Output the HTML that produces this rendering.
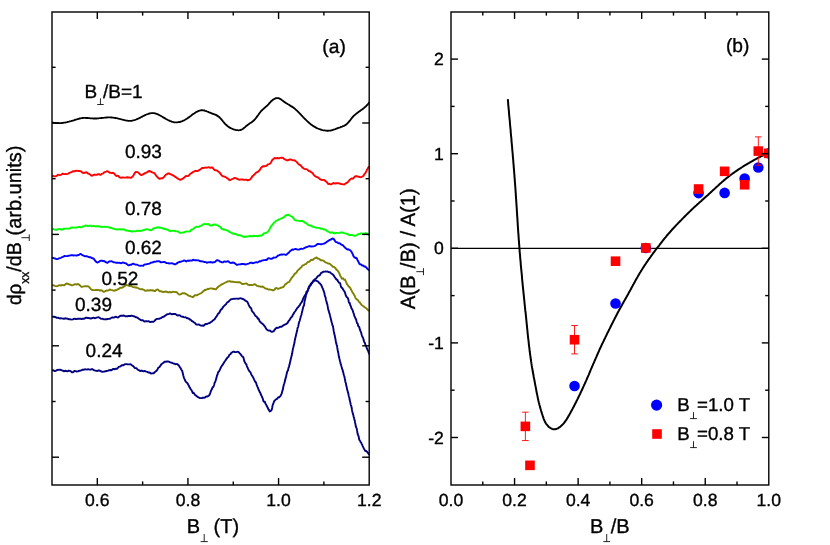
<!DOCTYPE html>
<html><head><meta charset="utf-8"><title>figure</title>
<style>
html,body{margin:0;padding:0;background:#fff;}
body{width:830px;height:545px;overflow:hidden;font-family:"Liberation Sans", sans-serif;}
svg{display:block;will-change:transform;}
</style></head><body>
<svg width="830" height="545" viewBox="0 0 830 545" font-family='"Liberation Sans", sans-serif' fill="#000" text-rendering="geometricPrecision">
<style>text{stroke:#000;stroke-width:0.35px;stroke-linejoin:round;}</style>
<rect x="0" y="0" width="830" height="545" fill="#fff"/>
<defs>
<clipPath id="cl"><rect x="52.0" y="12.0" width="317.2" height="473.0"/></clipPath>
<clipPath id="cr"><rect x="451.0" y="12.0" width="317.79999999999995" height="473.0"/></clipPath>
</defs>
<path d="M52.0 122.4L53.0 122.6L54.0 122.8L55.1 122.9L56.1 123.0L57.1 123.1L58.1 123.1L59.1 123.2L60.1 123.1L61.1 123.1L62.0 123.0L63.0 122.9L64.0 122.7L65.0 122.6L66.0 122.4L67.0 122.2L67.9 121.9L68.9 121.7L69.9 121.4L70.9 121.2L71.8 120.9L72.8 120.6L73.8 120.3L74.7 120.0L75.7 119.7L76.7 119.4L77.6 119.1L78.6 118.8L79.6 118.5L80.6 118.3L81.5 118.2L82.5 118.0L83.5 117.9L84.5 117.9L85.5 117.9L86.5 118.0L87.5 118.0L88.5 118.1L89.5 118.2L90.5 118.3L91.5 118.4L92.5 118.4L93.5 118.5L94.5 118.5L95.5 118.5L96.6 118.5L97.6 118.4L98.6 118.3L99.6 118.2L100.6 118.1L101.6 118.0L102.6 117.9L103.6 117.8L104.6 117.7L105.6 117.6L106.6 117.5L107.6 117.4L108.6 117.4L109.6 117.4L110.5 117.4L111.5 117.5L112.5 117.6L113.5 117.7L114.5 117.9L115.5 118.0L116.5 118.2L117.5 118.4L118.5 118.7L119.5 118.9L120.5 119.2L121.5 119.4L122.5 119.7L123.5 119.9L124.5 120.2L125.5 120.4L126.4 120.6L127.4 120.7L128.4 120.8L129.4 120.9L130.4 120.8L131.3 120.8L132.3 120.6L133.3 120.4L134.2 120.2L135.1 119.9L136.1 119.5L137.0 119.1L138.0 118.7L138.9 118.3L139.8 117.8L140.8 117.3L141.7 116.8L142.7 116.3L143.6 115.8L144.6 115.4L145.5 114.9L146.5 114.5L147.4 114.1L148.4 113.8L149.3 113.5L150.3 113.3L151.2 113.2L152.2 113.1L153.1 113.1L154.1 113.2L155.0 113.4L155.9 113.6L156.9 114.0L157.8 114.3L158.7 114.8L159.6 115.2L160.5 115.7L161.5 116.3L162.4 116.8L163.3 117.4L164.2 117.9L165.1 118.4L166.0 119.0L167.0 119.5L167.9 120.0L168.8 120.4L169.7 120.9L170.7 121.2L171.6 121.6L172.6 121.9L173.5 122.1L174.5 122.3L175.4 122.4L176.4 122.4L177.4 122.4L178.4 122.2L179.4 122.0L180.4 121.8L181.3 121.5L182.3 121.1L183.2 120.7L184.2 120.3L185.1 119.8L185.9 119.3L186.8 118.8L187.6 118.2L188.4 117.6L189.2 117.1L190.0 116.5L190.8 115.9L191.6 115.2L192.4 114.6L193.2 114.0L194.1 113.5L194.9 112.9L195.8 112.3L196.7 111.8L197.7 111.4L198.6 110.9L199.6 110.6L200.5 110.4L201.5 110.2L202.5 110.2L203.4 110.3L204.4 110.5L205.3 110.8L206.3 111.1L207.2 111.5L208.2 111.9L209.1 112.3L210.1 112.7L211.1 113.1L212.0 113.5L213.0 113.8L214.0 114.2L214.9 114.5L215.8 114.9L216.7 115.4L217.5 115.9L218.3 116.4L219.1 117.0L219.8 117.7L220.5 118.4L221.2 119.1L221.8 119.9L222.5 120.7L223.1 121.5L223.8 122.3L224.5 123.1L225.1 123.8L225.8 124.5L226.6 125.2L227.3 125.9L228.1 126.5L228.9 127.1L229.8 127.6L230.7 128.1L231.6 128.5L232.5 128.9L233.5 129.3L234.5 129.6L235.5 129.9L236.5 130.1L237.6 130.2L238.6 130.3L239.6 130.2L240.5 130.0L241.4 129.7L242.3 129.2L243.1 128.7L243.9 128.0L244.7 127.4L245.5 126.7L246.2 126.0L247.0 125.4L247.9 124.7L248.7 124.2L249.5 123.6L250.4 123.0L251.2 122.5L252.0 121.9L252.8 121.3L253.5 120.7L254.3 120.0L254.9 119.3L255.6 118.5L256.2 117.7L256.8 116.9L257.4 116.1L258.0 115.3L258.6 114.5L259.2 113.6L259.8 112.8L260.4 112.0L261.0 111.2L261.7 110.5L262.4 109.8L263.2 109.1L263.9 108.4L264.7 107.8L265.4 107.1L266.2 106.5L267.0 105.8L267.7 105.1L268.4 104.4L269.0 103.7L269.7 102.9L270.4 102.1L271.0 101.4L271.8 100.7L272.5 100.1L273.4 99.5L274.3 98.9L275.2 98.5L276.2 98.2L277.2 98.1L278.2 98.1L279.1 98.4L280.0 98.8L280.8 99.3L281.7 99.9L282.5 100.6L283.4 101.2L284.2 101.9L285.1 102.4L285.9 103.0L286.8 103.5L287.6 104.0L288.5 104.5L289.4 105.1L290.2 105.6L291.0 106.1L291.9 106.6L292.7 107.1L293.5 107.7L294.3 108.3L295.0 108.9L295.8 109.6L296.5 110.3L297.2 110.9L297.9 111.6L298.7 112.4L299.4 113.1L300.1 113.8L300.8 114.5L301.5 115.3L302.2 116.0L302.9 116.8L303.6 117.5L304.3 118.3L305.0 119.0L305.7 119.7L306.4 120.4L307.2 121.1L307.9 121.8L308.7 122.5L309.4 123.1L310.2 123.8L311.0 124.4L311.8 125.0L312.6 125.6L313.5 126.1L314.3 126.6L315.2 127.1L316.0 127.6L316.9 128.1L317.8 128.5L318.8 128.9L319.7 129.2L320.7 129.5L321.6 129.8L322.6 130.1L323.6 130.3L324.6 130.4L325.6 130.6L326.6 130.7L327.7 130.7L328.7 130.7L329.7 130.6L330.6 130.5L331.6 130.3L332.6 130.0L333.5 129.7L334.5 129.4L335.4 129.1L336.3 128.7L337.3 128.3L338.2 128.0L339.2 127.6L340.2 127.3L341.1 126.9L342.1 126.6L343.0 126.2L344.0 125.8L344.8 125.4L345.7 124.9L346.5 124.3L347.2 123.6L347.9 122.9L348.6 122.2L349.2 121.4L349.8 120.6L350.5 119.8L351.1 119.0L351.7 118.2L352.4 117.4L353.0 116.6L353.7 115.9L354.5 115.2L355.2 114.6L356.0 113.9L356.8 113.3L357.6 112.7L358.4 112.1L359.2 111.5L360.0 110.9L360.8 110.3L361.7 109.8L362.5 109.2L363.3 108.6L364.1 107.9L364.8 107.3L365.6 106.6L366.3 106.0L367.0 105.2L367.7 104.5L368.3 103.7L368.9 102.9L369.5 102.0" fill="none" stroke="#000000" stroke-width="1.85" stroke-linejoin="round" stroke-linecap="butt" clip-path="url(#cl)"/>
<path d="M52.0 175.8L53.0 176.0L54.0 176.3L55.0 176.4L56.0 176.2L57.0 175.6L58.0 174.8L59.0 174.9L59.9 175.2L60.9 174.8L61.9 174.2L62.8 173.7L63.8 174.0L64.8 174.1L65.7 173.9L66.7 174.1L67.6 173.8L68.6 173.4L69.5 172.8L70.5 172.4L71.5 172.1L72.5 171.5L73.5 171.2L74.5 171.3L75.5 170.9L76.5 170.7L77.5 170.9L78.5 171.0L79.5 171.0L80.5 171.1L81.5 171.8L82.5 172.7L83.4 173.0L84.4 172.8L85.4 172.5L86.4 172.3L87.4 172.9L88.3 173.7L89.3 174.0L90.3 174.7L91.2 175.6L92.2 175.7L93.1 175.1L94.1 174.7L95.1 174.7L96.1 174.7L97.1 174.7L98.1 174.1L99.0 174.1L100.0 174.8L100.8 174.7L101.7 173.9L102.5 173.7L103.4 173.3L104.3 172.1L105.2 171.9L106.2 171.6L107.2 171.2L108.2 171.6L109.1 172.3L110.1 172.8L111.0 172.9L111.9 173.1L112.7 172.8L113.4 172.9L114.2 173.7L115.0 174.5L115.7 175.5L116.5 176.0L117.4 175.7L118.3 176.0L119.3 177.1L120.2 177.6L121.2 177.7L122.2 177.5L123.2 177.5L124.2 177.6L125.2 177.6L126.2 177.5L127.2 177.3L128.2 177.5L129.2 177.4L130.2 177.7L131.2 177.7L132.1 176.9L132.9 176.2L133.6 175.2L134.2 173.9L134.8 173.1L135.5 172.2L136.2 171.9L137.2 172.1L138.1 172.4L138.9 173.2L139.8 174.0L140.7 174.9L141.7 175.1L142.7 174.5L143.6 173.9L144.6 173.5L145.5 172.9L146.4 172.6L147.3 172.1L148.3 171.4L149.3 171.0L150.3 171.2L151.2 171.9L152.1 172.3L153.0 172.7L153.8 172.9L154.6 173.4L155.4 174.5L156.2 175.9L157.0 176.7L157.8 177.5L158.7 178.3L159.6 178.8L160.6 178.6L161.6 178.1L162.5 178.2L163.4 177.5L164.3 176.6L165.1 175.6L166.0 174.6L166.9 174.2L167.8 173.6L168.8 173.3L169.8 174.1L170.8 174.3L171.7 174.7L172.6 175.3L173.5 175.5L174.4 176.2L175.3 176.9L176.2 177.4L177.1 178.1L178.0 178.7L178.9 179.2L179.9 179.8L180.9 179.7L181.9 179.2L182.8 178.6L183.7 177.9L184.6 177.3L185.4 176.3L186.2 176.0L187.0 176.1L187.9 176.0L188.7 175.7L189.6 174.7L190.5 173.5L191.4 173.1L192.3 172.6L193.3 171.8L194.2 171.5L195.1 171.0L196.0 170.8L196.9 171.1L197.8 171.1L198.6 170.5L199.5 169.8L200.3 169.4L201.2 168.8L202.1 168.0L203.0 167.9L204.0 168.0L205.0 167.5L206.0 167.6L207.0 167.7L208.0 167.4L209.0 167.3L209.9 167.7L210.9 167.7L211.8 167.3L212.8 167.9L213.7 169.1L214.6 170.0L215.5 170.3L216.4 170.4L217.2 170.7L218.1 171.4L218.9 172.1L219.7 172.6L220.5 173.9L221.3 174.9L222.1 175.8L222.9 176.3L223.7 176.4L224.6 176.8L225.4 176.9L226.2 177.6L227.1 178.3L228.0 178.5L228.9 179.6L229.9 180.2L230.8 179.8L231.8 179.2L232.8 178.9L233.8 178.4L234.8 177.9L235.8 178.1L236.8 178.6L237.8 179.1L238.8 179.6L239.8 179.7L240.8 179.4L241.8 179.5L242.8 179.5L243.8 179.8L244.8 179.9L245.7 179.6L246.7 179.8L247.7 180.3L248.6 180.0L249.5 179.9L250.3 179.1L251.2 178.1L252.0 176.9L252.7 175.8L253.5 175.5L254.2 174.6L254.9 174.1L255.7 173.2L256.4 172.4L257.1 172.3L257.8 171.9L258.6 171.2L259.4 170.5L260.2 169.2L261.1 167.8L262.0 167.0L262.9 166.3L263.9 166.1L264.8 166.2L265.7 166.1L266.6 165.7L267.4 164.8L268.1 164.3L268.9 164.1L269.5 163.9L270.2 163.5L270.9 162.5L271.6 161.3L272.3 159.8L273.0 159.4L273.8 158.7L274.6 157.9L275.5 158.4L276.4 158.2L277.4 158.0L278.3 158.3L279.3 158.3L280.3 157.9L281.3 157.8L282.3 157.7L283.1 158.0L284.0 158.8L284.9 159.3L285.8 159.7L286.8 160.4L287.8 160.3L288.7 159.8L289.7 159.5L290.7 159.4L291.7 159.8L292.6 160.2L293.5 160.4L294.3 160.3L295.1 160.7L295.8 161.2L296.6 161.7L297.3 162.7L298.0 163.6L298.8 164.4L299.5 164.8L300.3 165.0L301.1 166.0L301.9 166.9L302.7 167.8L303.6 168.4L304.4 168.8L305.3 169.1L306.1 169.1L307.0 169.4L307.9 170.2L308.7 170.9L309.5 171.3L310.4 171.5L311.2 172.2L312.0 172.6L312.8 173.3L313.5 174.6L314.3 175.4L315.0 176.2L315.8 176.5L316.5 176.8L317.3 177.2L318.1 177.6L319.0 178.2L319.9 179.1L320.9 179.7L321.9 180.0L322.9 179.9L323.9 179.9L324.9 180.6L325.8 181.2L326.7 182.0L327.4 182.9L328.1 183.9L328.8 184.0L329.6 183.8L330.4 184.3L331.4 184.4L332.4 183.5L333.4 183.0L334.3 183.3L335.3 183.5L336.3 183.3L337.3 183.2L338.3 183.3L339.3 183.4L340.3 183.8L341.3 184.0L342.2 184.1L343.2 184.4L344.2 184.5L345.2 183.8L346.2 183.1L347.2 182.6L348.2 181.7L349.1 180.6L350.0 179.6L350.8 178.8L351.5 178.5L352.2 178.5L352.7 178.8L353.3 178.5L354.0 177.5L354.8 176.7L355.7 176.2L356.7 176.1L357.7 176.5L358.7 176.7L359.7 177.0L360.7 177.2L361.7 176.9L362.6 176.5L363.5 175.7L364.3 174.3L364.9 173.5L365.5 173.0L366.0 171.8L366.5 170.8L366.9 169.8L367.4 169.2L367.8 168.3L368.3 167.4L368.8 167.1L369.5 166.4" fill="none" stroke="#ff0000" stroke-width="1.9" stroke-linejoin="round" stroke-linecap="butt" clip-path="url(#cl)"/>
<path d="M52.0 229.7L53.0 228.7L54.0 229.3L55.0 229.6L56.0 229.8L57.0 229.8L58.0 229.1L59.0 229.1L60.0 229.0L61.0 229.3L62.0 229.8L63.0 229.1L64.0 228.6L65.0 228.7L66.0 228.6L67.0 228.6L68.0 228.6L69.0 228.7L70.0 228.4L71.0 227.6L71.9 227.5L72.9 227.5L73.9 227.6L74.9 227.6L75.9 227.5L76.9 227.6L77.8 227.1L78.8 227.0L79.8 227.0L80.8 227.4L81.7 227.3L82.7 226.4L83.7 226.2L84.7 225.9L85.7 225.5L86.7 225.6L87.7 226.0L88.7 226.1L89.7 225.7L90.7 225.7L91.7 226.2L92.7 226.1L93.7 225.9L94.7 226.2L95.7 226.5L96.7 226.3L97.6 226.2L98.6 226.2L99.6 226.5L100.6 226.9L101.6 226.8L102.6 226.9L103.6 227.0L104.5 226.6L105.5 227.0L106.5 226.9L107.5 226.8L108.5 227.2L109.4 227.5L110.4 227.7L111.4 228.0L112.4 228.3L113.4 228.7L114.4 228.9L115.4 229.2L116.4 229.5L117.3 229.4L118.3 229.4L119.3 229.1L120.3 229.3L121.3 229.5L122.3 229.5L123.3 229.2L124.3 229.4L125.3 230.3L126.3 230.5L127.3 230.5L128.3 230.9L129.3 231.0L130.3 231.0L131.3 231.5L132.3 231.5L133.3 231.3L134.3 231.4L135.3 231.4L136.3 231.0L137.3 230.8L138.3 230.7L139.2 230.9L140.2 231.1L141.2 230.6L142.2 230.6L143.2 230.2L144.2 229.8L145.2 229.8L146.2 229.2L147.2 229.2L148.2 229.6L149.1 229.7L150.1 230.1L151.1 230.3L152.1 229.6L153.1 228.6L154.1 228.2L155.1 228.0L156.1 227.7L157.1 227.5L158.1 227.3L159.1 227.5L160.1 227.7L161.1 227.9L162.1 228.1L163.1 228.7L164.0 228.7L165.0 229.0L166.0 229.5L167.0 229.3L168.0 229.8L168.9 230.5L169.9 231.2L170.9 230.9L171.8 230.7L172.8 230.9L173.8 230.6L174.8 230.9L175.7 231.4L176.7 231.4L177.7 231.3L178.6 232.0L179.6 232.7L180.6 232.9L181.6 232.7L182.6 232.4L183.6 232.6L184.6 232.1L185.6 231.6L186.5 231.4L187.4 231.4L188.3 231.6L189.2 231.6L190.1 231.2L190.9 230.1L191.8 229.5L192.6 229.3L193.5 228.7L194.4 228.0L195.3 227.3L196.3 226.7L197.2 226.7L198.1 226.9L199.1 226.7L200.0 225.9L201.0 225.7L201.9 225.4L202.9 224.4L203.9 224.1L204.8 223.8L205.8 224.1L206.8 224.3L207.8 223.9L208.8 224.4L209.8 225.1L210.8 225.6L211.8 225.6L212.8 224.9L213.7 224.5L214.7 224.5L215.6 224.8L216.6 225.1L217.5 225.2L218.4 225.8L219.3 226.5L220.2 227.0L221.1 228.0L222.0 229.0L222.9 229.2L223.8 229.6L224.7 229.7L225.6 229.8L226.5 230.4L227.4 230.6L228.2 231.0L229.1 231.6L230.1 232.2L231.0 232.7L231.9 233.0L232.8 233.6L233.7 233.7L234.7 233.7L235.6 234.2L236.6 234.3L237.5 235.1L238.5 235.4L239.5 234.9L240.4 235.3L241.4 235.9L242.4 236.3L243.4 236.9L244.4 237.1L245.4 236.4L246.4 236.5L247.4 236.6L248.4 236.3L249.4 236.2L250.4 236.0L251.4 236.4L252.3 236.4L253.3 235.7L254.3 236.0L255.3 236.0L256.3 235.9L257.3 236.3L258.3 236.0L259.3 235.6L260.2 235.5L261.2 235.7L262.1 235.3L263.0 234.2L263.9 233.4L264.7 233.1L265.6 233.1L266.4 232.6L267.1 232.2L267.8 231.7L268.5 230.9L269.1 230.0L269.8 228.7L270.4 227.4L271.0 226.3L271.6 225.4L272.3 224.9L272.9 224.1L273.6 223.1L274.3 222.3L275.0 222.0L275.7 221.2L276.5 220.6L277.3 220.3L278.2 219.8L279.0 219.4L279.9 219.0L280.7 218.6L281.6 218.3L282.5 217.8L283.4 217.5L284.3 216.7L285.2 215.9L286.1 215.4L287.1 214.9L288.1 214.6L289.1 215.1L290.0 215.7L291.0 216.3L291.7 216.7L292.4 217.0L292.9 217.5L293.5 218.1L294.1 219.2L294.8 220.0L295.6 220.4L296.5 220.5L297.5 220.6L298.5 220.9L299.5 220.9L300.5 221.0L301.5 221.0L302.5 221.0L303.5 221.6L304.4 222.3L305.4 222.8L306.3 223.2L307.1 223.9L308.0 224.9L308.8 225.2L309.6 225.5L310.4 225.5L311.3 225.7L312.2 226.5L313.2 226.9L314.2 227.1L315.1 227.3L316.1 227.6L317.1 227.9L318.1 227.9L319.1 228.0L320.1 228.4L321.0 228.8L322.0 228.5L322.9 229.0L323.8 229.5L324.7 229.5L325.6 229.9L326.5 230.4L327.4 231.3L328.3 231.7L329.3 232.1L330.2 232.8L331.2 232.6L332.2 232.2L333.2 232.9L334.2 233.3L335.2 233.2L336.2 232.9L337.2 232.9L338.2 233.1L339.2 232.9L340.2 232.6L341.2 232.4L342.2 232.5L343.2 232.7L344.2 233.1L345.1 233.4L346.1 233.6L347.1 233.9L348.1 234.4L349.0 235.1L350.0 235.2L351.0 234.9L352.0 235.1L353.0 235.3L354.0 235.7L355.0 235.8L356.0 235.5L356.9 235.1L357.9 234.3L358.9 234.0L359.8 233.9L360.8 233.5L361.8 233.5L362.8 233.7L363.8 233.7L364.8 233.5L365.8 233.0L366.7 233.5L367.7 233.9L368.6 234.6L369.4 235.3" fill="none" stroke="#00ff00" stroke-width="1.9" stroke-linejoin="round" stroke-linecap="butt" clip-path="url(#cl)"/>
<path d="M52.0 258.2L53.0 257.8L54.0 258.2L55.0 258.5L56.0 258.8L57.0 259.1L58.0 258.8L58.9 258.4L59.9 258.1L60.9 257.8L61.9 257.2L62.8 256.9L63.8 256.5L64.7 255.9L65.7 256.1L66.7 256.1L67.6 256.0L68.6 255.7L69.6 255.6L70.6 255.3L71.6 255.1L72.6 255.2L73.6 255.5L74.6 255.4L75.6 255.4L76.5 255.7L77.5 255.2L78.5 255.1L79.5 254.5L80.5 253.9L81.5 254.5L82.5 255.2L83.5 255.7L84.4 256.0L85.4 256.2L86.4 256.2L87.3 256.4L88.3 256.8L89.2 257.2L90.2 257.2L91.1 257.7L92.0 258.2L93.0 258.1L93.9 258.9L94.9 260.4L95.9 261.5L96.8 262.4L97.8 262.5L98.8 261.9L99.8 261.1L100.8 260.7L101.8 260.7L102.8 261.0L103.8 261.0L104.8 261.4L105.8 262.2L106.8 262.7L107.8 262.7L108.8 261.7L109.8 261.3L110.8 261.4L111.8 261.3L112.8 261.8L113.8 262.4L114.8 262.4L115.8 262.7L116.8 262.6L117.8 262.7L118.7 262.9L119.7 262.8L120.7 263.2L121.7 263.1L122.6 262.4L123.6 262.7L124.5 263.1L125.5 263.2L126.4 263.7L127.4 264.5L128.4 265.4L129.3 265.1L130.3 264.6L131.3 264.7L132.3 263.9L133.3 263.7L134.3 264.2L135.3 264.6L136.3 264.6L137.3 264.7L138.3 265.3L139.3 265.6L140.3 265.9L141.3 265.6L142.3 265.6L143.2 265.8L144.2 264.7L145.2 264.4L146.2 264.4L147.1 264.1L148.1 263.9L149.0 263.7L150.0 263.3L151.0 262.6L151.9 262.5L152.9 262.3L153.9 261.8L154.9 261.8L155.9 261.6L156.8 261.3L157.8 261.3L158.8 261.3L159.8 261.5L160.8 262.3L161.8 262.3L162.8 262.1L163.7 262.0L164.7 262.0L165.7 262.6L166.6 263.1L167.6 263.1L168.6 263.3L169.6 263.5L170.6 263.4L171.6 263.3L172.6 263.4L173.5 263.8L174.5 264.4L175.5 264.2L176.5 263.6L177.5 262.9L178.4 262.3L179.4 262.0L180.4 261.8L181.3 261.6L182.3 261.2L183.3 260.9L184.2 260.4L185.2 260.8L186.2 261.5L187.2 260.8L188.2 260.5L189.1 260.9L190.1 260.5L191.1 260.6L192.1 260.5L193.1 259.7L194.1 260.1L195.1 260.3L196.1 260.1L197.1 260.4L198.1 260.3L199.1 260.7L200.0 261.2L201.0 261.1L202.0 261.4L203.0 261.5L204.0 262.0L205.0 262.0L205.9 262.1L206.9 262.8L207.9 262.4L208.9 262.3L209.9 262.4L210.9 262.0L211.9 262.5L212.9 262.5L213.9 262.2L214.9 262.0L215.9 261.1L216.9 260.3L217.9 260.2L218.9 260.8L219.9 261.5L220.9 261.8L221.9 262.4L222.9 262.4L223.9 261.6L224.9 261.5L225.8 261.8L226.8 261.6L227.8 261.2L228.8 261.7L229.8 262.6L230.7 263.0L231.7 262.8L232.7 262.5L233.7 262.7L234.7 263.2L235.7 264.0L236.7 264.9L237.7 264.7L238.7 264.4L239.7 264.4L240.7 264.2L241.7 264.0L242.7 264.0L243.7 263.9L244.7 264.3L245.7 264.5L246.7 264.2L247.6 263.9L248.6 263.6L249.6 263.2L250.6 262.7L251.6 262.7L252.6 263.2L253.6 263.1L254.6 262.7L255.5 262.4L256.5 262.1L257.5 262.5L258.5 262.0L259.5 261.1L260.4 261.4L261.4 260.9L262.4 260.4L263.3 260.3L264.3 260.1L265.3 260.0L266.2 260.1L267.2 259.4L268.1 258.3L269.1 258.3L270.1 258.6L271.0 258.7L272.0 258.7L272.9 258.1L273.8 257.5L274.8 257.6L275.7 257.6L276.7 256.7L277.6 255.9L278.5 255.4L279.4 255.1L280.4 254.6L281.3 254.5L282.2 254.7L283.1 254.4L284.1 254.4L285.0 254.6L285.9 255.0L286.9 254.3L287.8 253.4L288.7 252.8L289.7 251.5L290.6 250.8L291.6 249.8L292.5 249.5L293.5 249.8L294.5 249.2L295.5 248.9L296.4 249.2L297.4 249.6L298.4 249.6L299.4 249.5L300.4 248.9L301.3 248.7L302.3 248.9L303.3 248.6L304.3 248.2L305.2 247.6L306.2 247.1L307.2 247.0L308.1 246.5L309.1 246.0L310.1 246.3L311.1 246.5L312.0 246.5L313.0 246.4L314.0 246.2L315.0 245.9L316.0 245.2L317.0 244.3L317.9 244.0L318.9 244.0L319.9 244.1L320.9 244.3L321.8 244.2L322.8 243.9L323.7 243.6L324.5 243.5L325.4 242.9L326.3 242.3L327.2 241.6L328.1 241.0L329.0 240.4L330.0 239.9L331.0 239.5L332.0 238.7L332.9 238.5L333.8 239.1L334.7 240.4L335.5 241.8L336.3 242.3L337.1 242.3L337.9 242.8L338.8 243.3L339.7 243.3L340.6 244.0L341.5 244.9L342.4 244.9L343.2 245.5L344.1 246.7L345.0 247.7L345.8 248.2L346.6 249.0L347.4 249.6L348.2 249.2L348.9 249.7L349.6 250.0L350.3 250.4L351.0 251.2L351.6 252.0L352.3 253.3L352.9 254.6L353.5 256.2L354.2 257.0L354.8 257.5L355.4 258.0L356.1 257.8L356.7 258.2L357.3 259.7L358.0 261.0L358.6 262.1L359.3 263.7L360.0 264.3L360.6 264.2L361.4 264.9L362.1 265.6L362.8 265.4L363.6 265.9L364.3 266.7L365.1 266.5L365.9 267.1L366.8 268.1L367.6 269.0L368.5 269.7L369.4 270.7" fill="none" stroke="#0000ff" stroke-width="1.9" stroke-linejoin="round" stroke-linecap="butt" clip-path="url(#cl)"/>
<path d="M52.0 285.2L53.0 285.1L53.9 285.5L54.9 285.9L55.9 286.2L56.9 286.1L57.9 286.0L58.9 285.3L59.9 285.2L60.9 285.6L61.9 285.0L62.9 285.1L63.9 285.4L64.8 284.9L65.8 283.8L66.8 283.5L67.8 283.9L68.8 284.3L69.8 284.5L70.8 284.8L71.8 285.4L72.8 285.1L73.8 284.7L74.8 284.3L75.8 284.3L76.7 284.5L77.7 284.0L78.7 284.3L79.7 285.2L80.7 286.2L81.7 286.9L82.7 286.7L83.7 286.4L84.6 286.3L85.6 286.1L86.6 286.4L87.5 286.2L88.5 286.4L89.4 287.3L90.3 288.4L91.2 289.5L92.1 290.0L93.0 290.1L94.0 290.1L94.9 290.1L95.9 289.9L96.9 290.0L97.9 289.9L98.9 290.1L99.9 290.7L100.9 290.2L101.9 290.5L102.9 291.3L103.8 291.8L104.8 291.6L105.8 290.8L106.8 290.5L107.8 290.6L108.8 290.1L109.8 289.5L110.8 289.9L111.8 290.1L112.8 290.4L113.8 290.7L114.7 290.5L115.7 290.3L116.7 290.1L117.7 289.3L118.7 288.9L119.6 288.2L120.6 287.7L121.6 287.8L122.6 287.5L123.5 286.9L124.5 286.4L125.5 285.5L126.5 284.9L127.5 285.4L128.5 285.6L129.5 286.0L130.5 286.1L131.5 286.0L132.5 286.9L133.5 287.1L134.5 287.2L135.4 287.5L136.4 287.5L137.4 287.9L138.3 288.2L139.3 288.8L140.2 289.1L141.2 289.2L142.2 289.1L143.1 289.5L144.1 290.0L145.1 290.8L146.1 290.6L147.1 290.3L148.1 290.5L149.1 290.5L150.1 290.3L151.1 290.3L152.1 290.5L153.1 290.3L154.1 291.0L155.1 291.0L156.1 290.0L157.1 289.5L158.1 289.6L159.0 290.7L160.0 291.4L161.0 291.2L162.0 291.6L163.0 292.1L164.0 291.8L165.0 291.7L166.0 291.5L167.0 291.8L168.0 292.4L169.0 292.2L170.0 292.0L171.0 292.3L171.9 292.2L172.9 291.8L173.9 291.9L174.9 292.1L175.9 292.0L176.9 292.3L177.8 293.4L178.8 294.4L179.8 294.6L180.8 294.2L181.8 293.6L182.7 293.2L183.7 293.2L184.7 293.3L185.7 293.8L186.7 294.3L187.7 295.1L188.7 295.6L189.7 296.0L190.7 296.4L191.7 296.7L192.7 297.2L193.7 296.4L194.6 295.3L195.6 295.3L196.6 295.4L197.5 294.9L198.5 294.4L199.4 294.0L200.4 293.5L201.3 293.1L202.2 292.3L203.1 291.3L204.1 290.6L205.0 289.8L205.9 290.0L206.8 289.5L207.8 288.8L208.7 289.0L209.6 288.6L210.5 288.4L211.5 288.4L212.4 288.7L213.3 289.0L214.2 288.7L215.2 289.3L216.1 289.2L217.0 288.0L218.0 287.0L218.9 286.3L219.8 285.7L220.8 284.9L221.7 284.3L222.7 284.0L223.6 283.5L224.5 283.0L225.5 282.5L226.4 282.1L227.4 281.5L228.3 281.4L229.3 281.3L230.3 281.2L231.3 281.9L232.3 281.6L233.3 281.8L234.3 282.0L235.3 282.1L236.3 282.2L237.3 282.1L238.2 282.2L239.2 282.1L240.2 282.5L241.2 283.3L242.2 284.0L243.1 284.0L244.1 283.9L245.1 283.6L246.1 283.4L247.1 283.9L248.1 284.9L249.1 285.0L250.1 284.9L251.1 285.0L252.1 285.1L253.0 285.0L254.0 284.4L255.0 284.2L255.9 284.9L256.9 285.8L257.9 286.1L258.8 286.2L259.8 286.4L260.8 286.8L261.8 286.8L262.7 286.5L263.7 287.2L264.7 288.2L265.7 288.6L266.6 288.6L267.6 289.2L268.6 289.6L269.6 289.5L270.6 289.6L271.6 289.9L272.6 290.3L273.6 290.3L274.6 289.6L275.6 288.1L276.6 288.0L277.6 288.7L278.6 288.7L279.5 288.3L280.5 287.8L281.4 287.7L282.3 287.3L283.2 287.1L284.1 286.2L284.9 284.6L285.7 284.2L286.5 283.5L287.2 282.8L287.9 282.4L288.6 282.1L289.3 281.7L289.9 280.8L290.5 279.9L291.1 278.7L291.7 277.8L292.3 277.1L292.9 276.5L293.5 275.8L294.1 274.7L294.7 273.7L295.3 273.5L295.9 273.1L296.6 272.4L297.2 271.3L297.9 270.2L298.6 269.7L299.3 269.2L300.0 268.3L300.7 267.9L301.5 267.1L302.2 265.8L303.0 265.4L303.8 265.2L304.6 264.4L305.4 264.2L306.3 263.8L307.1 262.7L308.0 262.0L308.8 261.8L309.7 261.3L310.5 260.4L311.4 259.8L312.2 260.0L313.1 259.8L313.9 258.6L314.8 258.4L315.7 257.8L316.6 257.4L317.6 258.5L318.6 258.6L319.6 259.2L320.4 260.2L321.3 260.2L322.1 260.3L322.9 260.5L323.8 261.0L324.7 261.8L325.6 262.4L326.5 262.7L327.5 263.3L328.4 263.5L329.4 263.6L330.2 264.2L331.1 264.9L331.9 265.6L332.6 266.7L333.3 266.9L334.0 266.8L334.7 267.5L335.3 268.1L335.9 268.9L336.5 269.8L337.1 270.3L337.7 270.8L338.3 271.6L338.9 272.6L339.5 273.7L340.1 275.4L340.6 276.2L341.2 277.4L341.8 278.7L342.4 278.6L343.0 278.3L343.6 279.1L344.2 279.8L344.7 279.4L345.3 280.1L345.9 281.7L346.5 283.0L347.1 284.3L347.7 285.0L348.2 285.8L348.8 286.8L349.4 286.8L349.9 287.4L350.5 288.5L351.0 289.5L351.6 290.6L352.1 291.5L352.6 292.6L353.1 293.2L353.6 293.9L354.1 295.0L354.7 295.8L355.2 297.3L355.7 298.4L356.2 298.7L356.8 299.5L357.4 299.7L358.0 300.0L358.6 301.4L359.2 301.9L359.9 302.5L360.6 303.7L361.3 304.6L362.0 305.2L362.8 305.8L363.5 306.4L364.3 306.9L365.1 307.5L365.8 308.0L366.6 308.6L367.4 309.5L368.2 310.4L369.0 311.1" fill="none" stroke="#808000" stroke-width="1.9" stroke-linejoin="round" stroke-linecap="butt" clip-path="url(#cl)"/>
<path d="M52.0 316.6L53.0 316.7L53.9 316.6L54.9 317.0L55.9 317.4L56.9 317.9L57.8 317.7L58.8 318.0L59.8 318.5L60.8 318.3L61.8 318.4L62.8 318.6L63.8 318.8L64.8 318.5L65.8 318.3L66.8 318.6L67.8 318.8L68.8 319.2L69.8 319.3L70.8 319.4L71.8 319.6L72.8 319.4L73.8 318.9L74.8 318.7L75.7 319.1L76.7 319.1L77.7 318.7L78.7 318.7L79.7 318.7L80.7 318.7L81.7 319.1L82.7 318.6L83.7 318.8L84.7 318.5L85.7 317.6L86.7 317.8L87.7 318.0L88.7 318.0L89.7 318.3L90.7 318.5L91.7 318.3L92.7 317.9L93.7 317.8L94.7 318.2L95.6 318.0L96.6 317.7L97.6 317.4L98.6 317.3L99.6 317.7L100.6 318.6L101.6 318.9L102.6 318.7L103.6 319.3L104.6 319.4L105.6 319.2L106.6 319.2L107.6 319.0L108.6 318.9L109.6 318.8L110.6 318.3L111.6 317.7L112.6 317.3L113.6 317.7L114.5 317.4L115.5 316.7L116.5 317.0L117.5 317.5L118.4 317.3L119.4 316.3L120.4 315.8L121.4 315.8L122.4 315.8L123.4 315.5L124.4 315.7L125.4 316.3L126.4 316.2L127.4 316.3L128.4 316.0L129.4 316.0L130.4 316.1L131.3 315.6L132.3 315.9L133.3 316.2L134.2 316.2L135.2 316.9L136.1 317.3L137.0 317.4L137.9 318.1L138.8 318.8L139.8 319.4L140.7 320.0L141.6 320.2L142.5 320.1L143.5 320.8L144.4 321.6L145.4 321.3L146.4 321.2L147.4 321.4L148.4 321.1L149.4 321.6L150.4 322.1L151.4 321.8L152.4 321.8L153.4 321.9L154.3 321.1L155.3 320.0L156.2 319.2L157.2 318.9L158.1 318.9L159.0 318.7L159.9 318.5L160.8 318.1L161.7 317.6L162.5 317.0L163.4 316.9L164.3 316.4L165.3 315.6L166.2 314.9L167.1 314.2L168.1 314.2L169.1 313.9L170.1 313.4L171.1 314.0L172.1 314.3L173.1 313.9L174.1 314.0L175.1 313.9L176.1 314.5L177.1 315.3L178.0 315.5L179.0 315.2L180.0 315.4L181.0 316.4L182.0 316.7L182.9 316.7L183.8 317.1L184.7 317.4L185.6 317.3L186.4 317.8L187.3 318.4L188.1 318.3L188.9 318.7L189.7 319.5L190.5 319.5L191.3 320.5L192.1 321.2L193.0 321.6L193.8 322.2L194.6 322.7L195.5 323.7L196.4 324.5L197.3 324.6L198.3 324.5L199.2 324.6L200.2 325.3L201.2 325.7L202.2 325.4L203.2 325.9L204.2 325.4L205.2 324.2L206.1 324.0L207.1 324.0L208.0 323.5L208.9 323.1L209.7 323.0L210.6 322.2L211.4 321.9L212.1 321.3L212.9 320.6L213.6 320.1L214.3 319.6L214.9 318.9L215.6 317.6L216.2 316.8L216.8 316.2L217.4 315.0L218.0 313.7L218.6 313.3L219.1 313.2L219.7 312.0L220.3 310.7L220.8 309.8L221.4 309.3L221.9 309.1L222.5 308.1L223.1 307.0L223.7 306.4L224.4 305.7L225.0 305.1L225.7 304.6L226.4 303.6L227.1 302.5L227.8 302.1L228.6 301.7L229.4 300.7L230.3 299.8L231.1 299.3L232.0 299.1L233.0 298.9L234.0 298.8L234.9 298.9L235.9 298.6L236.9 298.6L237.9 298.8L238.9 298.7L239.9 298.4L240.9 298.2L241.9 298.8L242.8 299.0L243.7 299.3L244.6 300.1L245.4 300.6L246.2 301.2L246.9 301.4L247.6 302.3L248.2 303.7L248.7 304.9L249.3 306.2L249.8 306.9L250.3 307.6L250.8 307.8L251.3 308.6L251.7 310.4L252.2 311.3L252.7 311.9L253.2 312.4L253.8 313.1L254.3 314.0L254.9 315.0L255.5 315.9L256.1 316.3L256.7 316.6L257.3 317.8L257.9 318.7L258.5 318.5L259.1 319.9L259.8 321.7L260.4 322.0L261.1 322.7L261.8 323.3L262.4 323.6L263.1 324.4L263.8 325.2L264.5 326.0L265.2 327.1L265.9 328.2L266.7 329.5L267.4 330.0L268.2 330.5L269.0 330.6L269.9 330.5L270.8 331.4L271.8 331.8L272.8 331.6L273.7 331.2L274.5 329.9L275.3 329.0L276.1 328.1L277.0 327.6L277.8 328.0L278.7 327.6L279.6 327.0L280.5 326.8L281.5 326.7L282.4 326.1L283.3 325.4L284.3 324.8L285.1 324.5L286.0 324.1L286.8 323.6L287.5 323.0L288.2 321.7L288.8 320.7L289.4 320.2L290.0 319.3L290.5 318.3L291.0 317.5L291.6 317.1L292.1 316.5L292.6 315.4L293.1 314.4L293.7 313.6L294.2 312.5L294.8 311.8L295.4 311.0L295.9 310.1L296.5 309.2L297.1 308.1L297.6 307.6L298.2 307.2L298.8 306.3L299.3 305.7L299.9 305.1L300.4 303.8L300.9 303.1L301.4 302.6L301.9 301.8L302.4 300.7L302.8 299.6L303.3 298.3L303.7 297.3L304.2 296.7L304.6 295.8L305.1 295.1L305.5 294.7L306.0 293.7L306.4 292.0L306.9 291.6L307.4 291.6L307.9 290.1L308.4 288.8L308.9 288.2L309.4 286.6L310.0 285.5L310.6 285.3L311.1 284.6L311.7 283.3L312.3 282.7L312.9 281.6L313.5 280.3L314.1 280.2L314.7 279.8L315.3 278.8L316.0 278.5L316.6 277.9L317.3 276.9L318.0 276.1L318.7 275.6L319.4 275.5L320.2 274.6L321.0 273.0L321.8 272.6L322.7 272.1L323.7 271.7L324.6 271.6L325.6 271.5L326.6 271.6L327.6 271.5L328.6 272.1L329.5 272.2L330.4 272.5L331.2 273.5L332.1 273.9L332.8 274.4L333.6 275.4L334.3 276.3L334.9 277.5L335.6 278.2L336.2 279.3L336.8 279.9L337.4 279.7L337.9 281.2L338.5 281.9L339.0 282.7L339.5 282.9L340.1 283.1L340.6 285.2L341.1 286.9L341.6 287.6L342.1 288.0L342.6 288.5L343.1 289.5L343.6 290.3L344.1 291.1L344.6 291.7L345.0 292.7L345.5 294.3L345.9 295.7L346.4 296.7L346.8 297.0L347.2 297.4L347.6 297.8L348.0 298.3L348.4 299.7L348.8 301.8L349.2 302.8L349.6 302.8L350.0 303.9L350.4 305.4L350.7 305.9L351.1 307.0L351.4 308.2L351.8 308.9L352.2 309.4L352.5 310.2L352.9 311.0L353.2 312.3L353.6 313.2L353.9 314.1L354.2 315.6L354.6 316.4L354.9 316.9L355.3 318.0L355.6 318.8L356.0 319.1L356.3 320.3L356.7 322.0L357.0 323.1L357.4 323.2L357.8 324.1L358.1 325.7L358.5 326.4L358.8 326.5L359.2 327.1L359.5 328.1L359.9 329.7L360.3 330.6L360.6 331.3L361.0 332.3L361.3 333.2L361.7 334.8L362.1 336.1L362.4 336.8L362.8 337.2L363.2 338.3L363.5 339.6L363.9 340.9L364.2 342.1L364.6 342.4L365.0 343.2L365.3 344.4L365.7 345.2L366.1 345.9L366.4 346.9L366.8 348.3L367.2 348.8L367.5 349.6L367.9 350.5L368.3 351.2L368.6 352.4L369.0 353.2L369.4 354.4" fill="none" stroke="#000080" stroke-width="1.9" stroke-linejoin="round" stroke-linecap="butt" clip-path="url(#cl)"/>
<path d="M52.0 370.6L52.9 370.2L53.9 370.6L54.9 371.1L55.9 370.8L56.9 370.1L57.9 369.8L58.9 369.9L59.9 369.7L60.9 370.0L61.9 370.3L62.8 370.6L63.8 371.2L64.8 371.0L65.8 370.8L66.8 371.2L67.8 371.2L68.7 370.6L69.7 370.9L70.7 371.2L71.7 372.2L72.7 372.4L73.7 371.6L74.7 370.9L75.7 371.1L76.7 371.6L77.7 371.4L78.7 371.0L79.7 370.8L80.7 370.6L81.6 370.2L82.6 369.7L83.6 369.8L84.6 369.4L85.6 369.3L86.6 369.6L87.6 369.3L88.6 369.3L89.6 369.6L90.6 369.6L91.6 369.1L92.6 369.2L93.6 370.0L94.5 370.3L95.5 370.6L96.5 370.9L97.5 371.0L98.5 370.4L99.5 370.5L100.5 371.2L101.5 371.5L102.5 371.9L103.5 371.6L104.5 371.5L105.5 371.2L106.5 371.0L107.5 370.9L108.4 370.5L109.4 370.2L110.4 370.0L111.4 370.3L112.3 369.6L113.3 368.9L114.2 369.2L115.1 369.0L116.1 368.8L117.0 368.7L117.9 367.9L118.7 366.9L119.6 366.6L120.6 366.3L121.5 365.3L122.4 365.3L123.4 365.3L124.3 364.6L125.3 364.1L126.3 364.1L127.3 364.3L128.3 364.4L129.3 364.4L130.3 364.2L131.2 364.6L132.2 365.6L133.0 365.8L133.9 366.8L134.7 368.1L135.6 368.1L136.4 368.2L137.2 369.1L138.0 369.8L138.9 370.2L139.7 370.8L140.7 371.0L141.6 370.5L142.6 371.1L143.6 371.3L144.6 370.9L145.5 371.4L146.5 371.6L147.4 371.9L148.3 372.5L149.2 372.5L150.2 372.9L151.2 373.6L152.2 373.4L153.1 373.2L153.9 373.2L154.7 372.2L155.5 371.6L156.2 371.0L156.8 370.5L157.5 369.5L158.1 368.0L158.7 367.5L159.4 367.2L160.0 366.3L160.8 365.1L161.5 364.0L162.3 363.6L163.1 363.0L164.0 362.2L164.9 361.7L165.8 361.8L166.8 361.5L167.8 361.4L168.8 361.6L169.8 362.1L170.8 362.5L171.7 362.6L172.7 363.2L173.6 363.6L174.5 363.6L175.4 364.2L176.3 364.1L177.1 364.0L178.0 364.8L178.8 365.5L179.5 366.6L180.2 367.6L180.8 368.4L181.3 369.6L181.7 370.3L182.1 370.6L182.4 371.8L182.7 373.1L183.0 374.2L183.3 375.5L183.6 376.5L183.9 377.6L184.2 378.4L184.6 379.1L185.0 380.2L185.4 381.1L185.9 381.8L186.4 382.3L187.0 382.7L187.5 383.4L188.1 384.3L188.7 385.5L189.2 386.6L189.8 387.5L190.3 388.5L190.8 389.4L191.3 390.0L191.8 390.6L192.3 392.0L192.9 393.1L193.4 392.8L194.1 393.3L194.8 394.7L195.5 395.2L196.3 395.8L197.2 396.6L198.1 397.2L199.0 397.7L199.9 398.0L200.9 398.1L201.9 398.0L202.9 397.8L203.9 397.7L204.9 397.5L205.8 396.6L206.7 396.5L207.5 396.6L208.3 395.9L208.9 395.6L209.5 394.9L210.0 393.6L210.5 392.3L210.9 390.9L211.4 390.1L211.8 389.3L212.2 388.5L212.6 387.3L213.0 387.1L213.4 386.6L213.8 385.8L214.1 385.0L214.5 383.2L214.8 382.4L215.2 381.9L215.5 381.0L215.9 379.7L216.2 378.7L216.6 377.4L216.9 375.9L217.2 375.0L217.6 374.4L217.9 372.9L218.3 372.0L218.7 371.9L219.1 371.1L219.5 370.5L219.9 369.7L220.4 368.5L220.9 367.4L221.4 366.5L221.9 365.7L222.4 365.2L223.0 364.2L223.6 363.2L224.2 362.2L224.8 361.3L225.4 360.5L226.0 359.6L226.5 358.9L227.1 358.2L227.6 357.3L228.1 357.1L228.7 356.5L229.3 354.8L229.9 354.5L230.6 354.0L231.4 352.7L232.2 352.3L233.1 351.7L234.1 351.7L235.0 352.1L236.0 352.1L237.0 351.9L238.0 351.7L238.9 352.3L239.7 353.4L240.5 354.2L241.2 355.0L241.8 356.0L242.4 356.7L242.9 356.7L243.3 357.1L243.7 358.5L244.1 360.4L244.5 361.6L244.9 362.2L245.2 362.8L245.6 363.7L246.0 364.0L246.4 364.3L246.8 366.0L247.3 367.2L247.7 367.8L248.2 369.1L248.7 370.2L249.2 370.8L249.7 371.7L250.2 372.2L250.7 372.7L251.2 374.1L251.6 375.0L252.1 375.7L252.6 376.5L253.1 377.4L253.6 378.3L254.0 379.3L254.5 380.4L254.9 381.3L255.3 381.9L255.7 382.0L256.2 383.2L256.6 384.6L257.0 385.5L257.4 386.6L257.8 387.4L258.2 388.5L258.5 389.6L258.9 390.1L259.3 391.0L259.7 392.0L260.1 392.6L260.5 393.3L260.9 394.7L261.3 395.5L261.7 396.0L262.1 397.2L262.6 398.1L263.0 399.6L263.4 401.1L263.9 401.7L264.3 401.6L264.8 401.6L265.2 402.9L265.7 404.0L266.2 404.7L266.6 405.8L267.1 406.6L267.6 407.4L268.1 408.5L268.6 409.6L269.2 410.6L269.8 411.5L270.7 411.1L271.2 410.1L271.5 410.1L271.8 409.5L272.0 408.6L272.3 407.2L272.5 405.7L272.8 404.7L273.2 404.0L273.6 402.8L274.1 401.4L274.7 400.6L275.4 399.9L276.2 399.2L277.0 399.0L277.7 398.0L278.5 397.2L279.2 397.3L279.8 396.6L280.3 396.3L280.8 395.4L281.3 394.4L281.7 393.6L282.0 392.3L282.3 391.2L282.6 390.1L282.9 389.3L283.1 388.0L283.4 386.5L283.6 385.6L283.8 384.7L284.1 383.8L284.3 383.6L284.5 382.8L284.8 381.6L285.0 380.5L285.3 379.6L285.5 378.7L285.8 377.3L286.1 376.9L286.3 375.7L286.6 374.0L286.9 373.1L287.1 371.9L287.4 371.2L287.7 370.9L288.0 370.5L288.3 368.9L288.5 367.7L288.8 367.5L289.1 366.2L289.3 365.0L289.6 364.7L289.8 363.5L290.1 362.0L290.3 361.2L290.6 360.1L290.8 359.0L291.0 358.1L291.3 356.8L291.5 356.3L291.7 355.6L291.9 354.5L292.2 353.3L292.4 351.9L292.6 350.6L292.8 349.5L293.0 348.5L293.2 347.8L293.4 347.0L293.6 346.2L293.9 345.1L294.1 344.1L294.3 343.7L294.5 342.5L294.7 340.8L294.9 339.9L295.1 339.3L295.3 338.1L295.5 337.1L295.7 336.6L296.0 335.3L296.2 334.2L296.4 333.4L296.6 332.6L296.8 331.8L297.1 330.8L297.3 329.7L297.5 328.2L297.8 327.5L298.0 327.1L298.2 326.5L298.5 325.1L298.7 323.7L299.0 322.9L299.2 321.8L299.5 321.2L299.8 320.5L300.0 319.6L300.3 318.4L300.6 317.2L300.8 316.3L301.1 315.7L301.4 315.0L301.6 313.9L301.9 312.6L302.2 311.1L302.5 310.2L302.7 309.3L303.0 307.9L303.2 306.9L303.5 306.4L303.7 306.0L304.0 305.2L304.2 304.2L304.4 302.6L304.6 301.1L304.8 300.1L305.0 299.9L305.2 298.8L305.5 297.4L305.7 296.9L305.9 295.3L306.1 294.3L306.4 294.2L306.7 293.3L307.0 292.0L307.3 291.5L307.6 290.7L308.0 289.8L308.4 288.5L308.9 286.8L309.3 286.2L309.8 286.0L310.4 284.9L310.9 283.7L311.5 283.0L312.2 282.6L312.9 281.7L313.7 281.1L314.7 280.7L315.7 280.4L316.6 280.8L317.5 281.1L318.2 281.7L318.9 282.6L319.6 283.3L320.2 283.8L320.8 284.5L321.4 285.4L321.9 286.6L322.4 287.9L322.8 288.6L323.2 289.4L323.6 290.9L323.9 291.7L324.2 292.4L324.5 293.7L324.7 295.2L325.0 296.0L325.2 296.7L325.4 297.0L325.7 298.0L325.9 299.7L326.1 300.3L326.3 300.8L326.6 302.0L326.8 303.1L327.0 303.7L327.3 304.2L327.5 305.4L327.8 306.9L328.0 308.2L328.3 309.6L328.5 310.4L328.8 311.2L329.0 311.9L329.3 313.0L329.5 313.8L329.8 314.3L330.0 315.4L330.3 316.7L330.5 317.5L330.8 318.4L331.0 319.8L331.3 320.6L331.5 321.9L331.8 322.6L332.0 323.0L332.3 324.6L332.5 325.6L332.7 325.5L333.0 326.5L333.2 327.7L333.4 328.8L333.6 330.3L333.8 331.4L334.1 332.7L334.3 334.1L334.5 334.8L334.7 335.1L334.9 336.3L335.1 337.7L335.3 338.2L335.5 339.3L335.7 340.8L335.9 341.9L336.1 343.0L336.3 343.2L336.5 344.2L336.7 345.0L336.9 345.3L337.1 346.2L337.2 347.2L337.4 348.5L337.6 349.7L337.8 350.8L338.0 351.9L338.3 352.8L338.5 354.2L338.7 355.6L338.9 356.6L339.1 357.4L339.3 357.9L339.5 359.0L339.8 360.4L340.0 361.3L340.2 362.0L340.5 363.0L340.7 364.1L341.0 364.6L341.2 365.5L341.5 366.6L341.8 367.5L342.0 368.7L342.3 369.3L342.6 369.9L342.8 371.1L343.1 372.0L343.4 372.9L343.6 374.3L343.9 375.0L344.1 375.7L344.4 376.6L344.6 377.4L344.8 378.7L345.1 380.0L345.3 381.5L345.5 382.4L345.8 382.8L346.0 384.1L346.2 385.3L346.5 386.3L346.7 387.1L346.9 388.1L347.1 389.4L347.4 390.2L347.6 390.9L347.8 391.7L348.0 392.6L348.3 393.3L348.5 394.4L348.7 395.7L349.0 396.8L349.2 397.2L349.4 398.0L349.6 399.6L349.9 400.7L350.1 401.6L350.4 402.9L350.6 403.8L350.8 405.0L351.1 405.7L351.3 406.2L351.5 407.3L351.8 408.4L352.0 409.9L352.2 411.0L352.4 411.9L352.7 412.9L352.9 413.9L353.1 414.4L353.4 415.3L353.6 416.6L353.8 417.1L354.0 417.5L354.2 418.7L354.5 420.0L354.7 420.4L354.9 421.3L355.1 422.7L355.4 423.9L355.6 425.0L355.8 426.4L356.1 427.1L356.3 427.4L356.5 428.1L356.8 428.8L357.0 430.2L357.3 431.9L357.5 433.3L357.8 434.4L358.1 434.9L358.3 435.5L358.6 436.4L358.9 437.9L359.2 439.5L359.6 440.3L359.9 440.5L360.2 441.2L360.6 442.0L361.0 442.4L361.4 443.2L361.8 444.1L362.3 445.0L362.7 446.1L363.2 447.2L363.8 448.4L364.3 449.2L364.9 450.3L365.6 451.1L366.2 451.0L366.9 451.6L367.7 452.6L368.5 453.6L369.3 454.7" fill="none" stroke="#000080" stroke-width="1.9" stroke-linejoin="round" stroke-linecap="butt" clip-path="url(#cl)"/>
<rect x="52.0" y="12.0" width="317.20" height="473.00" fill="none" stroke="#000" stroke-width="1.4"/>
<line x1="97.31" y1="485.00" x2="97.31" y2="478.00" stroke="#000" stroke-width="1.4" />
<line x1="97.31" y1="12.00" x2="97.31" y2="19.00" stroke="#000" stroke-width="1.4" />
<line x1="142.63" y1="485.00" x2="142.63" y2="481.40" stroke="#000" stroke-width="1.4" />
<line x1="142.63" y1="12.00" x2="142.63" y2="15.60" stroke="#000" stroke-width="1.4" />
<line x1="187.94" y1="485.00" x2="187.94" y2="478.00" stroke="#000" stroke-width="1.4" />
<line x1="187.94" y1="12.00" x2="187.94" y2="19.00" stroke="#000" stroke-width="1.4" />
<line x1="233.26" y1="485.00" x2="233.26" y2="481.40" stroke="#000" stroke-width="1.4" />
<line x1="233.26" y1="12.00" x2="233.26" y2="15.60" stroke="#000" stroke-width="1.4" />
<line x1="278.57" y1="485.00" x2="278.57" y2="478.00" stroke="#000" stroke-width="1.4" />
<line x1="278.57" y1="12.00" x2="278.57" y2="19.00" stroke="#000" stroke-width="1.4" />
<line x1="323.89" y1="485.00" x2="323.89" y2="481.40" stroke="#000" stroke-width="1.4" />
<line x1="323.89" y1="12.00" x2="323.89" y2="15.60" stroke="#000" stroke-width="1.4" />
<line x1="52.00" y1="67.30" x2="55.60" y2="67.30" stroke="#000" stroke-width="1.4" />
<line x1="369.20" y1="67.30" x2="365.60" y2="67.30" stroke="#000" stroke-width="1.4" />
<line x1="52.00" y1="123.00" x2="59.00" y2="123.00" stroke="#000" stroke-width="1.4" />
<line x1="369.20" y1="123.00" x2="362.20" y2="123.00" stroke="#000" stroke-width="1.4" />
<line x1="52.00" y1="178.70" x2="55.60" y2="178.70" stroke="#000" stroke-width="1.4" />
<line x1="369.20" y1="178.70" x2="365.60" y2="178.70" stroke="#000" stroke-width="1.4" />
<line x1="52.00" y1="234.40" x2="59.00" y2="234.40" stroke="#000" stroke-width="1.4" />
<line x1="369.20" y1="234.40" x2="362.20" y2="234.40" stroke="#000" stroke-width="1.4" />
<line x1="52.00" y1="290.10" x2="55.60" y2="290.10" stroke="#000" stroke-width="1.4" />
<line x1="369.20" y1="290.10" x2="365.60" y2="290.10" stroke="#000" stroke-width="1.4" />
<line x1="52.00" y1="345.80" x2="59.00" y2="345.80" stroke="#000" stroke-width="1.4" />
<line x1="369.20" y1="345.80" x2="362.20" y2="345.80" stroke="#000" stroke-width="1.4" />
<line x1="52.00" y1="401.50" x2="55.60" y2="401.50" stroke="#000" stroke-width="1.4" />
<line x1="369.20" y1="401.50" x2="365.60" y2="401.50" stroke="#000" stroke-width="1.4" />
<line x1="52.00" y1="457.20" x2="59.00" y2="457.20" stroke="#000" stroke-width="1.4" />
<line x1="369.20" y1="457.20" x2="362.20" y2="457.20" stroke="#000" stroke-width="1.4" />
<text x="97.31" y="505.60" font-size="17.6" text-anchor="middle" >0.6</text>
<text x="187.94" y="505.60" font-size="17.6" text-anchor="middle" >0.8</text>
<text x="278.57" y="505.60" font-size="17.6" text-anchor="middle" >1.0</text>
<text x="369.20" y="505.60" font-size="17.6" text-anchor="middle" >1.2</text>
<text x="186.80" y="533.10" font-size="20" text-anchor="start" >B</text>
<path d="M200.60 541.60H207.80M204.20 541.60V534.00" stroke="#000" stroke-width="0.85" fill="none"/>
<text x="213.60" y="533.10" font-size="20" text-anchor="start" >(T)</text>
<g transform="translate(20.6 305.0) rotate(-90) scale(1 1.03)">
<text x="0.00" y="0.00" font-size="19.0" text-anchor="start" >d&#961;</text>
<text x="21.20" y="8.20" font-size="12.2" text-anchor="start" >xx</text>
<text x="33.30" y="0.00" font-size="19.6" text-anchor="start" >/dB</text>
<path d="M64.00 8.40H70.60M67.30 8.40V0.80" stroke="#000" stroke-width="0.85" fill="none"/>
<text x="69.50" y="0.00" font-size="20.0" text-anchor="start" >(arb.units)</text>
</g>
<text x="334.10" y="52.60" font-size="19.2" text-anchor="middle" >(a)</text>
<text x="84.40" y="98.00" font-size="19" text-anchor="start" >B</text>
<path d="M97.20 104.50H103.70M100.45 104.50V98.40" stroke="#000" stroke-width="0.85" fill="none"/>
<text x="103.00" y="98.00" font-size="19" text-anchor="start" >/B=1</text>
<text x="124.90" y="157.80" font-size="19" text-anchor="start" >0.93</text>
<text x="124.90" y="214.50" font-size="19" text-anchor="start" >0.78</text>
<text x="124.90" y="253.60" font-size="19" text-anchor="start" >0.62</text>
<text x="101.40" y="284.50" font-size="19" text-anchor="start" >0.52</text>
<text x="75.00" y="310.50" font-size="19" text-anchor="start" >0.39</text>
<text x="85.60" y="356.70" font-size="19" text-anchor="start" >0.24</text>
<line x1="451.00" y1="248.30" x2="768.80" y2="248.30" stroke="#000" stroke-width="1.3" />
<path d="M507.8 99.1L507.9 100.1L508.0 101.1L508.1 102.1L508.2 103.1L508.2 104.1L508.3 105.1L508.4 106.1L508.5 107.1L508.6 108.1L508.7 109.1L508.8 110.1L508.9 111.1L509.0 112.1L509.0 113.1L509.1 114.1L509.2 115.1L509.3 116.1L509.4 117.1L509.5 118.1L509.6 119.1L509.7 120.0L509.8 121.0L509.9 122.0L509.9 123.0L510.0 124.0L510.1 125.0L510.2 126.0L510.3 127.0L510.4 128.0L510.5 129.0L510.6 130.0L510.7 131.0L510.7 132.0L510.8 133.0L510.9 134.0L511.0 135.0L511.1 136.0L511.2 137.0L511.3 138.0L511.4 139.0L511.5 140.0L511.5 141.0L511.6 142.0L511.7 143.0L511.8 144.0L511.9 145.0L512.0 146.0L512.1 147.0L512.2 148.0L512.2 149.0L512.3 150.0L512.4 151.0L512.5 152.0L512.6 153.0L512.7 154.0L512.8 155.0L512.8 156.0L512.9 157.0L513.0 158.0L513.1 159.0L513.2 160.0L513.3 161.0L513.3 162.0L513.4 163.0L513.5 163.9L513.6 164.9L513.7 165.9L513.7 166.9L513.8 167.9L513.9 168.9L514.0 169.9L514.1 170.9L514.1 171.9L514.2 172.9L514.3 173.9L514.4 174.9L514.5 175.9L514.5 176.9L514.6 177.9L514.7 178.9L514.8 179.9L514.8 180.9L514.9 181.9L515.0 182.9L515.1 183.9L515.1 184.9L515.2 185.9L515.3 186.9L515.4 187.9L515.4 188.9L515.5 189.9L515.6 190.9L515.6 191.9L515.7 192.9L515.8 193.9L515.8 194.9L515.9 195.9L516.0 196.9L516.0 197.9L516.1 198.9L516.2 199.9L516.2 200.9L516.3 201.9L516.4 202.9L516.4 203.9L516.5 204.9L516.6 205.9L516.6 206.9L516.7 207.9L516.8 208.9L516.8 209.9L516.9 210.9L516.9 211.9L517.0 212.9L517.1 213.9L517.1 214.9L517.2 215.9L517.3 216.9L517.3 217.9L517.4 218.9L517.5 219.9L517.5 220.9L517.6 221.9L517.7 222.9L517.7 223.9L517.8 224.9L517.8 225.9L517.9 226.9L518.0 227.9L518.0 228.9L518.1 229.9L518.2 230.9L518.2 231.9L518.3 232.9L518.4 233.9L518.5 234.9L518.5 235.9L518.6 236.9L518.7 237.9L518.7 238.9L518.8 239.9L518.9 240.9L519.0 241.9L519.0 242.9L519.1 243.9L519.2 244.9L519.3 245.9L519.3 246.9L519.4 247.9L519.5 248.9L519.6 249.9L519.6 250.9L519.7 251.9L519.8 252.9L519.9 253.9L520.0 254.9L520.1 255.9L520.1 256.9L520.2 257.8L520.3 258.8L520.4 259.8L520.5 260.8L520.6 261.8L520.7 262.8L520.7 263.8L520.8 264.8L520.9 265.8L521.0 266.8L521.1 267.8L521.2 268.8L521.3 269.8L521.4 270.8L521.5 271.8L521.6 272.8L521.7 273.8L521.8 274.8L521.9 275.8L522.0 276.8L522.0 277.8L522.1 278.8L522.2 279.8L522.3 280.8L522.4 281.8L522.5 282.8L522.6 283.8L522.7 284.8L522.8 285.8L522.9 286.8L523.0 287.8L523.1 288.8L523.2 289.8L523.3 290.8L523.4 291.7L523.5 292.7L523.6 293.7L523.7 294.7L523.8 295.7L523.9 296.7L524.0 297.7L524.1 298.7L524.2 299.7L524.3 300.7L524.4 301.7L524.5 302.7L524.6 303.7L524.7 304.7L524.8 305.7L524.9 306.7L525.0 307.7L525.1 308.7L525.2 309.7L525.3 310.7L525.5 311.7L525.6 312.7L525.7 313.7L525.8 314.7L525.9 315.7L526.0 316.7L526.1 317.7L526.2 318.6L526.3 319.6L526.4 320.6L526.5 321.6L526.6 322.6L526.7 323.6L526.8 324.6L526.9 325.6L527.0 326.6L527.1 327.6L527.2 328.6L527.3 329.6L527.4 330.6L527.5 331.6L527.6 332.6L527.7 333.6L527.8 334.6L527.9 335.6L528.0 336.6L528.1 337.6L528.2 338.6L528.4 339.6L528.5 340.6L528.6 341.6L528.7 342.6L528.8 343.6L528.9 344.6L529.0 345.6L529.1 346.5L529.3 347.5L529.4 348.5L529.5 349.5L529.6 350.5L529.7 351.5L529.9 352.5L530.0 353.5L530.1 354.5L530.3 355.5L530.4 356.5L530.5 357.5L530.7 358.5L530.8 359.5L531.0 360.4L531.1 361.4L531.3 362.4L531.4 363.4L531.6 364.4L531.7 365.4L531.9 366.4L532.0 367.4L532.2 368.4L532.4 369.3L532.6 370.3L532.7 371.3L532.9 372.3L533.1 373.3L533.3 374.3L533.5 375.3L533.6 376.2L533.8 377.2L534.0 378.2L534.2 379.2L534.4 380.2L534.6 381.2L534.8 382.1L534.9 383.1L535.1 384.1L535.3 385.1L535.5 386.1L535.7 387.1L535.9 388.1L536.1 389.0L536.2 390.0L536.4 391.0L536.6 392.0L536.8 393.0L537.0 394.0L537.2 394.9L537.4 395.9L537.6 396.9L537.8 397.9L538.0 398.9L538.2 399.8L538.4 400.8L538.7 401.8L538.9 402.8L539.2 403.7L539.4 404.7L539.7 405.7L539.9 406.6L540.2 407.6L540.5 408.6L540.8 409.5L541.0 410.5L541.3 411.4L541.6 412.4L541.9 413.4L542.2 414.3L542.5 415.3L542.8 416.2L543.2 417.2L543.5 418.1L543.8 419.1L544.2 420.0L544.6 420.9L545.0 421.8L545.5 422.7L546.0 423.6L546.6 424.4L547.3 425.2L548.0 426.0L548.7 426.7L549.5 427.4L550.4 428.0L551.3 428.5L552.2 428.9L553.2 429.2L554.1 429.3L555.1 429.2L556.1 429.1L557.0 428.7L557.9 428.3L558.8 427.7L559.7 427.1L560.5 426.5L561.3 425.8L562.1 425.1L562.8 424.3L563.5 423.6L564.1 422.8L564.8 422.0L565.3 421.2L565.9 420.4L566.5 419.6L567.0 418.7L567.5 417.9L568.0 417.0L568.5 416.1L569.0 415.3L569.5 414.4L570.0 413.5L570.5 412.7L570.9 411.8L571.4 410.9L571.9 410.0L572.4 409.2L572.8 408.3L573.3 407.4L573.8 406.5L574.3 405.6L574.7 404.7L575.2 403.8L575.6 402.9L576.1 402.0L576.5 401.1L577.0 400.2L577.4 399.3L577.9 398.4L578.3 397.5L578.8 396.6L579.2 395.7L579.6 394.8L580.1 393.9L580.5 393.0L580.9 392.1L581.3 391.2L581.8 390.3L582.2 389.4L582.6 388.5L583.0 387.6L583.4 386.7L583.8 385.8L584.2 384.8L584.7 383.9L585.1 383.0L585.5 382.1L585.9 381.2L586.3 380.3L586.7 379.3L587.1 378.4L587.5 377.5L587.9 376.6L588.3 375.7L588.7 374.8L589.1 373.8L589.5 372.9L589.9 372.0L590.2 371.1L590.6 370.2L591.0 369.2L591.4 368.3L591.8 367.4L592.2 366.5L592.6 365.5L593.0 364.6L593.4 363.7L593.8 362.8L594.2 361.9L594.6 360.9L595.0 360.0L595.4 359.1L595.8 358.2L596.2 357.3L596.6 356.4L597.0 355.4L597.4 354.5L597.8 353.6L598.2 352.7L598.6 351.8L599.0 350.9L599.4 349.9L599.8 349.0L600.3 348.1L600.7 347.2L601.1 346.3L601.5 345.4L601.9 344.5L602.4 343.6L602.8 342.7L603.2 341.8L603.7 340.9L604.1 340.0L604.5 339.1L605.0 338.2L605.4 337.3L605.8 336.4L606.3 335.5L606.7 334.6L607.1 333.7L607.6 332.8L608.0 331.9L608.5 331.0L608.9 330.1L609.4 329.2L609.8 328.3L610.3 327.4L610.7 326.5L611.2 325.6L611.6 324.7L612.1 323.8L612.5 322.9L613.0 322.0L613.4 321.1L613.9 320.2L614.3 319.3L614.8 318.4L615.2 317.5L615.7 316.7L616.2 315.8L616.6 314.9L617.1 314.0L617.6 313.1L618.0 312.2L618.5 311.3L619.0 310.5L619.5 309.6L619.9 308.7L620.4 307.8L620.9 306.9L621.4 306.1L621.9 305.2L622.4 304.3L622.8 303.4L623.3 302.6L623.8 301.7L624.3 300.8L624.8 300.0L625.3 299.1L625.8 298.2L626.3 297.3L626.8 296.5L627.3 295.6L627.8 294.7L628.3 293.8L628.7 293.0L629.2 292.1L629.7 291.2L630.2 290.3L630.7 289.5L631.1 288.6L631.6 287.7L632.1 286.8L632.6 285.9L633.0 285.0L633.5 284.2L634.0 283.3L634.5 282.4L635.0 281.5L635.4 280.7L635.9 279.8L636.4 278.9L636.9 278.0L637.4 277.2L637.9 276.3L638.4 275.4L638.9 274.6L639.4 273.7L639.9 272.8L640.5 272.0L641.0 271.1L641.5 270.3L642.0 269.4L642.6 268.6L643.1 267.7L643.7 266.9L644.2 266.0L644.7 265.2L645.3 264.4L645.9 263.5L646.4 262.7L647.0 261.9L647.6 261.1L648.1 260.2L648.7 259.4L649.3 258.6L649.9 257.8L650.5 257.0L651.0 256.2L651.6 255.4L652.2 254.6L652.8 253.7L653.4 252.9L654.0 252.1L654.6 251.3L655.2 250.5L655.8 249.7L656.4 248.9L657.0 248.1L657.6 247.3L658.3 246.5L658.9 245.8L659.5 245.0L660.1 244.2L660.7 243.4L661.3 242.6L661.9 241.8L662.5 241.0L663.2 240.2L663.8 239.4L664.4 238.6L665.0 237.9L665.7 237.1L666.3 236.3L666.9 235.5L667.6 234.8L668.2 234.0L668.9 233.3L669.6 232.5L670.2 231.8L670.9 231.0L671.5 230.3L672.2 229.5L672.9 228.8L673.6 228.0L674.3 227.3L674.9 226.6L675.6 225.8L676.3 225.1L677.0 224.4L677.7 223.7L678.4 222.9L679.1 222.2L679.8 221.5L680.5 220.8L681.2 220.1L681.9 219.3L682.6 218.6L683.3 217.9L684.0 217.2L684.7 216.5L685.4 215.8L686.1 215.1L686.8 214.4L687.5 213.7L688.2 213.0L689.0 212.3L689.7 211.6L690.4 210.9L691.1 210.2L691.8 209.5L692.6 208.8L693.3 208.1L694.0 207.4L694.8 206.8L695.5 206.1L696.3 205.4L697.0 204.7L697.7 204.1L698.5 203.4L699.2 202.7L700.0 202.0L700.7 201.4L701.5 200.7L702.2 200.0L703.0 199.4L703.7 198.7L704.4 198.0L705.2 197.4L705.9 196.7L706.7 196.0L707.4 195.4L708.2 194.7L708.9 194.0L709.7 193.3L710.4 192.7L711.1 192.0L711.9 191.3L712.6 190.6L713.3 190.0L714.1 189.3L714.8 188.6L715.5 187.9L716.3 187.2L717.0 186.6L717.8 185.9L718.5 185.2L719.2 184.5L720.0 183.8L720.7 183.2L721.5 182.5L722.2 181.8L723.0 181.2L723.7 180.5L724.5 179.9L725.3 179.2L726.0 178.6L726.8 178.0L727.6 177.4L728.4 176.7L729.2 176.1L730.0 175.5L730.8 174.9L731.6 174.3L732.4 173.7L733.2 173.2L734.0 172.6L734.8 172.0L735.7 171.4L736.5 170.9L737.3 170.3L738.2 169.7L739.0 169.2L739.8 168.6L740.7 168.1L741.5 167.5L742.3 167.0L743.2 166.4L744.0 165.9L744.9 165.4L745.7 164.8L746.6 164.3L747.4 163.8L748.3 163.3L749.2 162.8L750.0 162.3L750.9 161.8L751.8 161.3L752.6 160.8L753.5 160.3L754.4 159.8L755.3 159.3L756.2 158.9L757.1 158.4L757.9 158.0L758.8 157.5L759.7 157.1L760.6 156.6L761.5 156.2L762.4 155.8L763.4 155.4L764.3 154.9L765.2 154.5L766.1 154.1L767.0 153.8L768.0 153.4L768.9 153.0" fill="none" stroke="#000" stroke-width="2.0" stroke-linejoin="round" stroke-linecap="butt" clip-path="url(#cr)"/>
<g clip-path="url(#cr)">
<circle cx="574.53" cy="385.97" r="5.3" fill="#0000ff"/>
<circle cx="615.53" cy="303.48" r="5.3" fill="#0000ff"/>
<circle cx="645.81" cy="247.95" r="5.3" fill="#0000ff"/>
<circle cx="698.57" cy="193.08" r="5.3" fill="#0000ff"/>
<circle cx="724.63" cy="192.89" r="5.3" fill="#0000ff"/>
<circle cx="744.65" cy="178.61" r="5.3" fill="#0000ff"/>
<circle cx="758.31" cy="167.45" r="5.3" fill="#0000ff"/>
<circle cx="768.80" cy="153.35" r="5.3" fill="#0000ff"/>
<path d="M525.37 412.18V440.56M522.07 412.18h6.6M522.07 440.56h6.6" stroke="#ff0000" stroke-width="0.9" fill="none"/>
<rect x="520.57" y="421.57" width="9.6" height="9.6" fill="#ff0000"/>
<rect x="525.17" y="460.54" width="9.6" height="9.6" fill="#ff0000"/>
<path d="M574.53 325.52V353.90M571.23 325.52h6.6M571.23 353.90h6.6" stroke="#ff0000" stroke-width="0.9" fill="none"/>
<rect x="569.73" y="334.91" width="9.6" height="9.6" fill="#ff0000"/>
<rect x="610.73" y="256.39" width="9.6" height="9.6" fill="#ff0000"/>
<rect x="641.01" y="243.15" width="9.6" height="9.6" fill="#ff0000"/>
<rect x="693.77" y="184.21" width="9.6" height="9.6" fill="#ff0000"/>
<rect x="719.83" y="166.52" width="9.6" height="9.6" fill="#ff0000"/>
<rect x="739.85" y="179.96" width="9.6" height="9.6" fill="#ff0000"/>
<path d="M758.31 136.89V165.27M755.01 136.89h6.6M755.01 165.27h6.6" stroke="#ff0000" stroke-width="0.9" fill="none"/>
<rect x="753.51" y="146.28" width="9.6" height="9.6" fill="#ff0000"/>
<rect x="764.00" y="148.55" width="9.6" height="9.6" fill="#ff0000"/>
</g>
<rect x="451.0" y="12.0" width="317.80" height="473.00" fill="none" stroke="#000" stroke-width="1.4"/>
<line x1="482.78" y1="485.00" x2="482.78" y2="481.40" stroke="#000" stroke-width="1.4" />
<line x1="482.78" y1="12.00" x2="482.78" y2="15.60" stroke="#000" stroke-width="1.4" />
<line x1="514.56" y1="485.00" x2="514.56" y2="478.00" stroke="#000" stroke-width="1.4" />
<line x1="514.56" y1="12.00" x2="514.56" y2="19.00" stroke="#000" stroke-width="1.4" />
<line x1="546.34" y1="485.00" x2="546.34" y2="481.40" stroke="#000" stroke-width="1.4" />
<line x1="546.34" y1="12.00" x2="546.34" y2="15.60" stroke="#000" stroke-width="1.4" />
<line x1="578.12" y1="485.00" x2="578.12" y2="478.00" stroke="#000" stroke-width="1.4" />
<line x1="578.12" y1="12.00" x2="578.12" y2="19.00" stroke="#000" stroke-width="1.4" />
<line x1="609.90" y1="485.00" x2="609.90" y2="481.40" stroke="#000" stroke-width="1.4" />
<line x1="609.90" y1="12.00" x2="609.90" y2="15.60" stroke="#000" stroke-width="1.4" />
<line x1="641.68" y1="485.00" x2="641.68" y2="478.00" stroke="#000" stroke-width="1.4" />
<line x1="641.68" y1="12.00" x2="641.68" y2="19.00" stroke="#000" stroke-width="1.4" />
<line x1="673.46" y1="485.00" x2="673.46" y2="481.40" stroke="#000" stroke-width="1.4" />
<line x1="673.46" y1="12.00" x2="673.46" y2="15.60" stroke="#000" stroke-width="1.4" />
<line x1="705.24" y1="485.00" x2="705.24" y2="478.00" stroke="#000" stroke-width="1.4" />
<line x1="705.24" y1="12.00" x2="705.24" y2="19.00" stroke="#000" stroke-width="1.4" />
<line x1="737.02" y1="485.00" x2="737.02" y2="481.40" stroke="#000" stroke-width="1.4" />
<line x1="737.02" y1="12.00" x2="737.02" y2="15.60" stroke="#000" stroke-width="1.4" />
<line x1="451.00" y1="437.50" x2="458.00" y2="437.50" stroke="#000" stroke-width="1.4" />
<line x1="768.80" y1="437.50" x2="761.80" y2="437.50" stroke="#000" stroke-width="1.4" />
<line x1="451.00" y1="390.20" x2="454.60" y2="390.20" stroke="#000" stroke-width="1.4" />
<line x1="768.80" y1="390.20" x2="765.20" y2="390.20" stroke="#000" stroke-width="1.4" />
<line x1="451.00" y1="342.90" x2="458.00" y2="342.90" stroke="#000" stroke-width="1.4" />
<line x1="768.80" y1="342.90" x2="761.80" y2="342.90" stroke="#000" stroke-width="1.4" />
<line x1="451.00" y1="295.60" x2="454.60" y2="295.60" stroke="#000" stroke-width="1.4" />
<line x1="768.80" y1="295.60" x2="765.20" y2="295.60" stroke="#000" stroke-width="1.4" />
<line x1="451.00" y1="248.30" x2="458.00" y2="248.30" stroke="#000" stroke-width="1.4" />
<line x1="768.80" y1="248.30" x2="761.80" y2="248.30" stroke="#000" stroke-width="1.4" />
<line x1="451.00" y1="201.00" x2="454.60" y2="201.00" stroke="#000" stroke-width="1.4" />
<line x1="768.80" y1="201.00" x2="765.20" y2="201.00" stroke="#000" stroke-width="1.4" />
<line x1="451.00" y1="153.70" x2="458.00" y2="153.70" stroke="#000" stroke-width="1.4" />
<line x1="768.80" y1="153.70" x2="761.80" y2="153.70" stroke="#000" stroke-width="1.4" />
<line x1="451.00" y1="106.40" x2="454.60" y2="106.40" stroke="#000" stroke-width="1.4" />
<line x1="768.80" y1="106.40" x2="765.20" y2="106.40" stroke="#000" stroke-width="1.4" />
<line x1="451.00" y1="59.10" x2="458.00" y2="59.10" stroke="#000" stroke-width="1.4" />
<line x1="768.80" y1="59.10" x2="761.80" y2="59.10" stroke="#000" stroke-width="1.4" />
<text x="451.00" y="505.60" font-size="17.6" text-anchor="middle" >0.0</text>
<text x="514.56" y="505.60" font-size="17.6" text-anchor="middle" >0.2</text>
<text x="578.12" y="505.60" font-size="17.6" text-anchor="middle" >0.4</text>
<text x="641.68" y="505.60" font-size="17.6" text-anchor="middle" >0.6</text>
<text x="705.24" y="505.60" font-size="17.6" text-anchor="middle" >0.8</text>
<text x="768.80" y="505.60" font-size="17.6" text-anchor="middle" >1.0</text>
<text x="443.90" y="65.10" font-size="17.6" text-anchor="end" >2</text>
<text x="443.90" y="159.70" font-size="17.6" text-anchor="end" >1</text>
<text x="443.90" y="254.30" font-size="17.6" text-anchor="end" >0</text>
<text x="443.90" y="348.90" font-size="17.6" text-anchor="end" >-1</text>
<text x="443.90" y="443.50" font-size="17.6" text-anchor="end" >-2</text>
<text x="590.10" y="533.10" font-size="20" text-anchor="start" >B</text>
<path d="M603.30 541.60H610.10M606.70 541.60V534.00" stroke="#000" stroke-width="0.85" fill="none"/>
<text x="610.80" y="533.10" font-size="20" text-anchor="start" >/B</text>
<g transform="translate(414.7 309.3) rotate(-90) scale(1 1.02)">
<text x="0.00" y="0.00" font-size="20.3" text-anchor="start" >A(B</text>
<path d="M34.14 8.60H41.14M37.64 8.60V1.60" stroke="#000" stroke-width="0.85" fill="none"/>
<text x="41.14" y="0.00" font-size="20.3" text-anchor="start" >/B) / A(1)</text>
</g>
<text x="737.70" y="51.80" font-size="19.2" text-anchor="middle" >(b)</text>
<circle cx="656.6" cy="405.1" r="5.6" fill="#0000ff"/>
<rect x="652.2" y="429.2" width="9.6" height="9.6" fill="#ff0000"/>
<text x="677.20" y="410.80" font-size="18.7" text-anchor="start" >B</text>
<path d="M690.10 418.60H696.90M693.50 418.60V412.20" stroke="#000" stroke-width="0.85" fill="none"/>
<text x="697.00" y="410.80" font-size="18.7" text-anchor="start" >=1.0 T</text>
<text x="677.20" y="439.80" font-size="18.7" text-anchor="start" >B</text>
<path d="M690.10 447.60H696.90M693.50 447.60V441.20" stroke="#000" stroke-width="0.85" fill="none"/>
<text x="697.00" y="439.80" font-size="18.7" text-anchor="start" >=0.8 T</text>
</svg>
</body></html>
